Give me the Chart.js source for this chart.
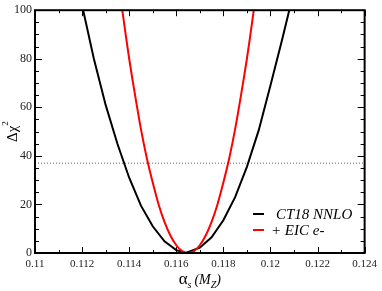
<!DOCTYPE html>
<html>
<head>
<meta charset="utf-8">
<script src="https://cdn.jsdelivr.net/npm/chart.js@4.4.1/dist/chart.umd.min.js"></script>
<style>
  html, body { margin: 0; padding: 0; background: #fff; }
  #wrap { width: 382px; height: 291px; position: relative; }
</style>
</head>
<body>
<div id="wrap"><canvas id="chi2Chart" width="382" height="291"></canvas></div>
<script>
// tick labels
const alphaTicks = [0.11, 0.112, 0.114, 0.116, 0.118, 0.12, 0.122, 0.124];
const chi2Ticks = [0, 20, 40, 60, 80, 100];

// CT18 NNLO scan
const ct18Alpha = [0.1120, 0.1125, 0.1130, 0.1135, 0.1140, 0.1145, 0.1150, 0.1155, 0.1160, 0.1164,
                   0.1170, 0.1175, 0.1180, 0.1185, 0.1190, 0.1195, 0.1200, 0.1205, 0.1210];
const ct18Chi2  = [102, 80, 61, 45, 31, 19.5, 11, 4.8, 1.2, 0,
                   2.2, 6.5, 13.5, 23, 35.5, 50.5, 69, 88, 108];

// + EIC e- scan
const eicAlpha = [0.11350, 0.11375, 0.11400, 0.11425, 0.11450, 0.11475, 0.11500, 0.11525, 0.11550,
                  0.11575, 0.11600, 0.11625, 0.11650, 0.11675, 0.11700, 0.11725, 0.11750, 0.11775,
                  0.11800, 0.11825, 0.11850, 0.11875, 0.11900, 0.11925, 0.11950];
const eicChi2  = [115, 97, 80, 65, 51, 39, 29, 20, 12.8,
                  7.2, 3.2, 0.8, 0, 0.8, 3.2, 7.2, 12.8, 20,
                  29, 39, 51, 65, 80, 97, 115];

// tolerance line
const tolAlpha = [0.11, 0.124];
const tolChi2 = [37, 37];

const seriesLabels = ['CT18 NNLO', '+ EIC e-'];
const seriesColors = ['#000000', '#ff0000'];

const SERIF = '"Liberation Serif", "DejaVu Serif", serif';

const toXY = (xs, ys) => xs.map((x, i) => ({ x: x, y: ys[i] }));

// draws text pieces one after another, each with its own font / offset
function drawRuns(ctx, runs, x, y) {
  let cx = x;
  runs.forEach(r => {
    ctx.font = r.font;
    ctx.fillText(r.text, cx, y + (r.dy || 0));
    cx += ctx.measureText(r.text).width + (r.gap || 0);
  });
}
function runsWidth(ctx, runs) {
  let w = 0;
  runs.forEach(r => { ctx.font = r.font; w += ctx.measureText(r.text).width + (r.gap || 0); });
  return w;
}

const framePlugin = {
  id: 'frame',
  afterDraw(chart) {
    const { ctx, chartArea: a, scales } = chart;
    const xs = scales.x, ys = scales.y;
    ctx.save();
    ctx.strokeStyle = '#000';

    // inward ticks on all four sides
    ctx.lineWidth = 1;
    ctx.beginPath();
    for (let i = 0; i <= 14; i++) {
      const px = Math.round(xs.getPixelForValue(0.11 + i * 0.001)) + 0.5;
      const len = i % 2 === 0 ? 6 : 3;
      ctx.moveTo(px, a.bottom); ctx.lineTo(px, a.bottom - len);
      ctx.moveTo(px, a.top); ctx.lineTo(px, a.top + len);
    }
    for (let i = 0; i <= 20; i++) {
      const py = Math.round(ys.getPixelForValue(i * 5)) + 0.5;
      const len = i % 4 === 0 ? 7 : 4;
      ctx.moveTo(a.left, py); ctx.lineTo(a.left + len, py);
      ctx.moveTo(a.right, py); ctx.lineTo(a.right - len, py);
    }
    ctx.stroke();

    // frame
    ctx.lineWidth = 2;
    ctx.strokeRect(a.left, a.top, a.right - a.left, a.bottom - a.top);

    ctx.fillStyle = '#000';
    ctx.textBaseline = 'alphabetic';

    // x title: alpha_s (M_Z)
    const xRuns = [
      { text: 'α', font: '17px ' + SERIF },
      { text: 's', font: 'italic 10px ' + SERIF, dy: 4, gap: 3 },
      { text: '(', font: 'italic 14px ' + SERIF },
      { text: 'M', font: 'italic 14px ' + SERIF },
      { text: 'Z', font: 'italic 10px ' + SERIF, dy: 4 },
      { text: ')', font: 'italic 14px ' + SERIF }
    ];
    const xw = runsWidth(ctx, xRuns);
    drawRuns(ctx, xRuns, (a.left + a.right) / 2 - xw / 2, 284);

    // y title: delta chi^2, rotated
    ctx.save();
    ctx.translate(17, (a.top + a.bottom) / 2);
    ctx.rotate(-Math.PI / 2);
    const yRuns = [
      { text: 'Δχ', font: '15px ' + SERIF },
      { text: '2', font: '9px ' + SERIF, dy: -9 }
    ];
    const yw = runsWidth(ctx, yRuns);
    drawRuns(ctx, yRuns, -yw / 2, 0);
    ctx.restore();

    // legend
    seriesLabels.forEach((lab, i) => {
      const y = 214 + i * 16;
      ctx.strokeStyle = seriesColors[i];
      ctx.lineWidth = 2;
      ctx.beginPath();
      ctx.moveTo(253, y); ctx.lineTo(264, y);
      ctx.stroke();
      ctx.font = 'italic 15px ' + SERIF;
      ctx.textBaseline = 'middle';
      ctx.fillText(lab, i === 0 ? 276 : 271, y + 1);
    });
    ctx.restore();
  }
};

new Chart(document.getElementById('chi2Chart'), {
  type: 'line',
  data: {
    datasets: [
      {
        label: seriesLabels[0],
        data: toXY(ct18Alpha, ct18Chi2),
        borderColor: seriesColors[0],
        borderWidth: 2,
        pointRadius: 0,
        tension: 0,
        order: 1
      },
      {
        label: seriesLabels[1],
        data: toXY(eicAlpha, eicChi2),
        borderColor: seriesColors[1],
        borderWidth: 2,
        pointRadius: 0,
        tension: 0.3,
        order: 0
      },
      {
        label: 'tolerance',
        data: toXY(tolAlpha, tolChi2),
        borderColor: '#666',
        borderWidth: 1,
        borderDash: [1, 2],
        pointRadius: 0,
        order: 2
      }
    ]
  },
  options: {
    responsive: false,
    devicePixelRatio: 1,
    animation: false,
    layout: { padding: { top: 5, right: 14, left: 0, bottom: 0 } },
    plugins: { legend: { display: false }, tooltip: { enabled: false } },
    scales: {
      x: {
        type: 'linear',
        min: 0.11,
        max: 0.124,
        afterBuildTicks: s => { s.ticks = alphaTicks.map(v => ({ value: v })); },
        afterFit: s => { s.height = 38; },
        grid: { display: false, drawTicks: false },
        border: { display: false },
        ticks: {
          autoSkip: false,
          maxRotation: 0,
          padding: 5,
          color: '#222',
          font: { family: SERIF, size: 11 },
          callback: v => String(parseFloat(Number(v).toFixed(3)))
        }
      },
      y: {
        min: 0,
        max: 100,
        afterBuildTicks: s => { s.ticks = chi2Ticks.map(v => ({ value: v })); },
        afterFit: s => { s.width = 35; },
        grid: { display: false, drawTicks: false },
        border: { display: false },
        ticks: {
          padding: 3,
          color: '#222',
          font: { family: SERIF, size: 12 }
        }
      }
    }
  },
  plugins: [framePlugin]
});
</script>
</body>
</html>
